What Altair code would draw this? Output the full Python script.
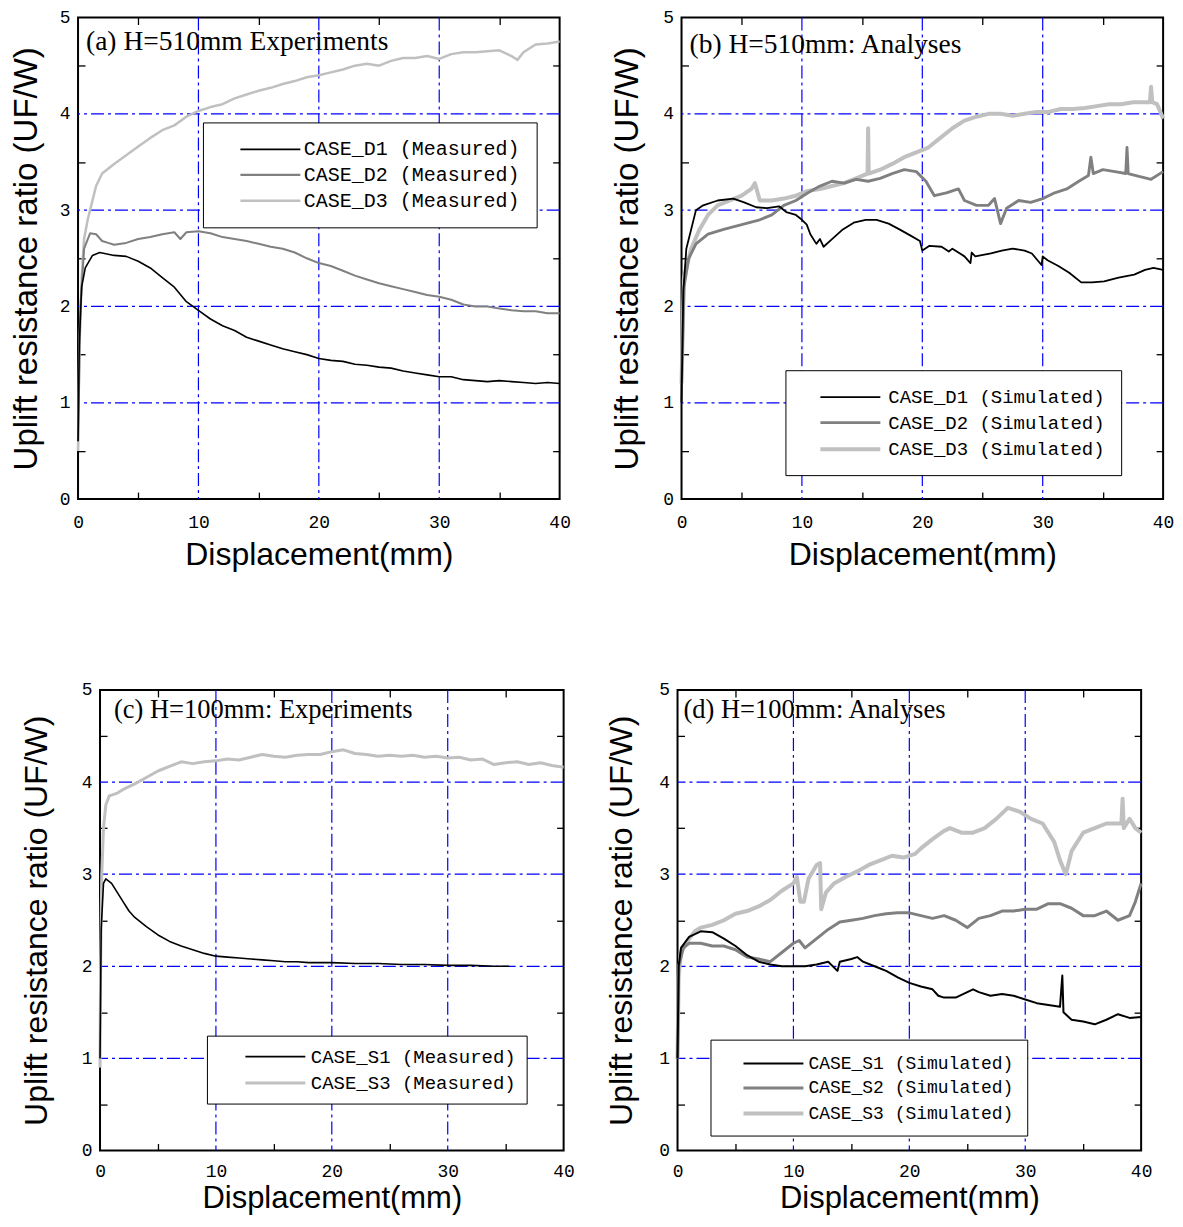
import altair as alt
import pandas as pd

# ---------------- data ----------------
# Panel (a) H=510mm experiments
A_D1_X = [0, 0.1, 0.3, 0.6, 1.2, 1.8, 3, 4, 5, 6, 7, 8, 9, 10, 11, 12, 13, 14, 15, 16, 17, 18, 19, 20,
          21, 22, 23, 24, 25, 26, 27, 28, 29, 30, 31, 32, 33, 34, 35, 36, 37, 38, 39, 40]
A_D1_Y = [0.6, 1.6, 2.2, 2.4, 2.53, 2.56, 2.53, 2.52, 2.47, 2.4, 2.3, 2.2, 2.05, 1.96, 1.87, 1.8, 1.75, 1.68, 1.64, 1.6, 1.56, 1.53, 1.5, 1.46,
          1.44, 1.43, 1.4, 1.39, 1.37, 1.36, 1.33, 1.31, 1.29, 1.27, 1.27, 1.24, 1.23, 1.22, 1.23, 1.22, 1.21, 1.2, 1.21, 1.2]
A_D2_X = [0, 0.2, 0.5, 1.0, 1.5, 2, 2.5, 3, 4, 5, 6, 7, 8, 8.5, 9, 10, 11, 12, 13, 14, 15, 16, 17, 18, 19, 20,
          21, 22, 23, 24, 25, 26, 27, 28, 29, 30, 31, 32, 33, 34, 35, 36, 37, 38, 39, 40]
A_D2_Y = [0.6, 2.0, 2.6, 2.76, 2.75, 2.68, 2.66, 2.64, 2.66, 2.7, 2.72, 2.75, 2.77, 2.7, 2.77, 2.78, 2.76, 2.72, 2.7, 2.68, 2.65, 2.62, 2.6, 2.56, 2.5, 2.45,
          2.42, 2.37, 2.32, 2.28, 2.24, 2.21, 2.18, 2.15, 2.12, 2.1, 2.07, 2.02, 2.0, 2.0, 1.98, 1.96, 1.95, 1.95, 1.93, 1.93]
A_D3_X = [0, 0.1, 0.3, 0.5, 0.8, 1.0, 1.5, 2, 2.5, 3, 4, 5, 6, 7, 8, 9, 10, 11, 12, 13, 14, 15, 16, 17, 18, 19, 20,
          21, 22, 23, 24, 25, 26, 27, 28, 29, 30, 31, 32, 33, 34, 35, 36, 36.5, 37, 38, 39, 40]
A_D3_Y = [0.5, 1.5, 2.3, 2.7, 2.9, 3.0, 3.25, 3.38, 3.43, 3.48, 3.57, 3.66, 3.75, 3.83, 3.88, 3.97, 4.03, 4.07, 4.1, 4.16, 4.2, 4.24, 4.27, 4.31, 4.34, 4.38, 4.4,
          4.43, 4.46, 4.5, 4.52, 4.5, 4.55, 4.58, 4.58, 4.6, 4.57, 4.62, 4.64, 4.64, 4.65, 4.66, 4.6, 4.56, 4.64, 4.72, 4.73, 4.75]

# Panel (b) H=510mm analyses
B_D1_X = [0, 0.15, 0.4, 1.2, 1.8, 3.0, 4.3, 5.2, 6.2, 7.1, 8.1, 8.7, 9.5, 10, 10.4, 10.7, 11.2, 11.5, 11.8, 12.5, 13.4, 14.3, 15.3,
          16.2, 17.2, 18.1, 19.1, 19.8, 20, 20.6, 21.6, 22.2, 22.5, 23.5, 24, 24.1, 24.4, 25.7, 26.6, 27.5, 28.5, 29.1, 29.9, 30.0, 30.4,
          31.3, 32.2, 33.2, 34.1, 35.1, 36.3, 37.6, 38.5, 39.2, 40]
B_D1_Y = [1.0, 2.16, 2.6, 3.0, 3.05, 3.1, 3.12, 3.08, 3.03, 3.02, 3.04, 2.98, 2.95, 2.9, 2.85, 2.75, 2.65, 2.7, 2.62, 2.7, 2.8, 2.87, 2.9,
          2.9, 2.86, 2.8, 2.73, 2.68, 2.58, 2.63, 2.62, 2.57, 2.6, 2.52, 2.45, 2.56, 2.52, 2.55, 2.58, 2.6, 2.58, 2.55, 2.43, 2.52, 2.48,
          2.42, 2.35, 2.25, 2.25, 2.26, 2.3, 2.33, 2.38, 2.4, 2.38]
B_D2_X = [0, 0.2, 0.6, 1.2, 2.2, 3.5, 5, 6.5, 7.5, 8.5, 9.5, 10.5, 11.5, 12.5, 13.5, 14.5, 15.5, 16.5, 17.5, 18.5, 19.5,
          20.3, 21, 22, 23, 23.5, 24.5, 25.5, 26, 26.5, 27, 28, 29, 30, 31, 32, 33, 33.8, 34, 34.2, 35, 36, 36.9, 37, 37.1, 38, 39, 40]
B_D2_Y = [1.2, 2.2, 2.5, 2.65, 2.75, 2.8, 2.85, 2.9, 2.95, 3.05, 3.1, 3.18, 3.25, 3.3, 3.28, 3.32, 3.3, 3.33, 3.38, 3.42, 3.4,
          3.3, 3.15, 3.18, 3.22, 3.1, 3.05, 3.05, 3.12, 2.86, 3.02, 3.1, 3.08, 3.12, 3.18, 3.22, 3.3, 3.36, 3.55, 3.38, 3.42, 3.4, 3.38, 3.65, 3.38, 3.35, 3.32, 3.4]
B_D3_X = [0, 0.2, 0.8, 1.5, 2.2, 3, 4, 5, 5.8, 6.1, 6.5, 7.5, 8.5, 9.5, 10.5, 11.5, 12.5, 13.5, 14.5, 15.45, 15.5, 15.55,
          16.5, 17.5, 18.5, 19.5, 20.5, 21.5, 22.5, 23.5, 24.5, 25.5, 26.5, 27.5, 28.5, 29.5, 30.5, 31.5, 32.5, 33.5, 34.5,
          35.5, 36.5, 37.5, 38.5, 38.9, 39, 39.1, 39.5, 40]
B_D3_Y = [1.2, 2.3, 2.6, 2.8, 2.95, 3.05, 3.1, 3.15, 3.22, 3.28, 3.1, 3.1, 3.12, 3.15, 3.2, 3.22, 3.25, 3.28, 3.33, 3.38, 3.85, 3.38,
          3.42, 3.48, 3.55, 3.6, 3.65, 3.75, 3.85, 3.93, 3.97, 4.0, 4.0, 3.98, 4.0, 4.02, 4.02, 4.05, 4.05, 4.06, 4.08,
          4.1, 4.1, 4.12, 4.12, 4.12, 4.28, 4.12, 4.1, 3.95]

# Panel (c) H=100mm experiments
C_S1_X = [0, 0.1, 0.3, 0.5, 1, 1.5, 2, 2.5, 3, 4, 5, 6, 7, 8, 9, 10, 11, 12, 13, 14, 15, 16, 17, 18, 19, 20,
          22, 24, 26, 28, 30, 32, 34, 35.3]
C_S1_Y = [1.0, 2.4, 2.9, 2.95, 2.9, 2.8, 2.7, 2.6, 2.53, 2.43, 2.34, 2.27, 2.22, 2.18, 2.14, 2.11, 2.1, 2.09, 2.08, 2.07, 2.06, 2.05, 2.05, 2.04, 2.04, 2.04,
          2.03, 2.03, 2.02, 2.02, 2.01, 2.01, 2.0, 2.0]
C_S3_X = [0, 0.05, 0.15, 0.3, 0.5, 0.8, 1.5, 2, 3, 4, 5, 6, 7, 8, 9, 10, 11, 12, 13, 14, 15, 16, 17, 18, 19, 20,
          21, 22, 23, 24, 25, 26, 27, 28, 29, 30, 31, 32, 33, 34, 35, 36, 37, 38, 39, 40]
C_S3_Y = [0.9, 2.0, 3.0, 3.5, 3.75, 3.85, 3.88, 3.92, 3.98, 4.05, 4.12, 4.17, 4.22, 4.2, 4.22, 4.23, 4.25, 4.24, 4.27, 4.3, 4.28, 4.27, 4.29, 4.3, 4.3, 4.33,
          4.35, 4.31, 4.3, 4.28, 4.29, 4.28, 4.29, 4.27, 4.28, 4.26, 4.27, 4.24, 4.25, 4.19, 4.21, 4.22, 4.19, 4.21, 4.18, 4.16]

# Panel (d) H=100mm analyses
D_S1_X = [0, 0.1, 0.3, 1, 2, 3, 4, 5, 6, 7, 8, 9, 10, 11, 12, 13, 13.8, 14, 15, 15.5, 16, 17, 18, 19, 20, 21, 22, 22.5,
          23, 24, 25, 25.5, 26, 27, 28, 29, 30, 31, 32, 33, 33.2, 33.3, 34, 35, 36, 37, 38, 39, 40]
D_S1_Y = [1.0, 2.0, 2.2, 2.32, 2.38, 2.37, 2.3, 2.22, 2.12, 2.05, 2.02, 2.0, 2.0, 2.0, 2.02, 2.05, 1.95, 2.05, 2.08, 2.1, 2.05, 2.0, 1.95, 1.88, 1.82, 1.78, 1.75, 1.68,
          1.66, 1.66, 1.72, 1.75, 1.72, 1.68, 1.7, 1.68, 1.64, 1.6, 1.58, 1.56, 1.9, 1.5, 1.42, 1.4, 1.37, 1.42, 1.48, 1.44, 1.45]
D_S2_X = [0, 0.1, 0.5, 1, 2, 3, 4, 5, 6, 7, 8, 9, 10, 10.5, 11, 12, 13, 14, 15, 16, 17, 18, 19, 20, 21, 22, 23, 24, 25,
          26, 27, 28, 29, 30, 31, 32, 33, 34, 35, 36, 37, 38, 39, 39.5, 40]
D_S2_Y = [1.0, 2.0, 2.2, 2.25, 2.25, 2.22, 2.22, 2.18, 2.1, 2.08, 2.05, 2.15, 2.25, 2.28, 2.2, 2.3, 2.4, 2.48, 2.5, 2.52, 2.55, 2.57, 2.58, 2.58, 2.55, 2.52, 2.55, 2.5, 2.42,
          2.52, 2.55, 2.6, 2.6, 2.62, 2.62, 2.68, 2.68, 2.63, 2.55, 2.55, 2.6, 2.5, 2.55, 2.7, 2.9]
D_S3_X = [0, 0.1, 0.3, 1, 1.5, 2, 3, 4, 5, 6, 7, 8, 9, 10, 10.3, 10.6, 10.9, 11.3, 12, 12.3, 12.4, 12.8, 13.5, 14.5, 15.5,
          16.5, 17.5, 18.5, 19.5, 20.5, 21, 22, 23, 23.5, 24.5, 25.5, 26.5, 27.5, 28.5, 29.5, 30.5, 31.5, 32.5, 33, 33.5,
          34, 35, 36, 37, 38, 38.3, 38.4, 38.5, 39, 39.5, 40]
D_S3_Y = [1.0, 1.9, 2.15, 2.3, 2.38, 2.42, 2.45, 2.5, 2.57, 2.6, 2.65, 2.72, 2.82, 2.9, 2.97, 2.7, 2.7, 2.95, 3.1, 3.12, 2.62, 2.8, 2.9, 2.97, 3.03,
          3.1, 3.15, 3.2, 3.18, 3.22, 3.28, 3.38, 3.47, 3.5, 3.45, 3.45, 3.5, 3.6, 3.72, 3.68, 3.6, 3.55, 3.35, 3.15, 3.0,
          3.25, 3.45, 3.5, 3.55, 3.55, 3.55, 3.82, 3.5, 3.6, 3.5, 3.45]

X_LABELS = [0, 10, 20, 30, 40]
Y_LABELS = [0, 1, 2, 3, 4, 5]
X_MINOR = [5, 15, 25, 35]
Y_MINOR = [0.5, 1.5, 2.5, 3.5, 4.5]
GRID_X = [10, 20, 30]
GRID_Y = [1, 2, 3, 4]

BLACK, GRAY, LIGHT = "#000000", "#808080", "#c0c0c0"


def panel(series, title, W, H, title_size, ytitle_pad, xlabel_pad, xtitle_pad,
          head_size, head_dx, head_dy, leg):
    rows = []
    # draw in reverse so that the first (black) series is on top
    for name, xs_, ys_, color, sw in reversed(series):
        for i, (xv, yv) in enumerate(zip(xs_, ys_)):
            rows.append({"series": name, "x": xv, "y": yv, "i": i})
    df = pd.DataFrame(rows)
    names = [s[0] for s in series]
    colors = [s[3] for s in series]
    widths = [s[4] for s in series]

    xsc = alt.Scale(domain=[0, 40], nice=False, zero=False)
    ysc = alt.Scale(domain=[0, 5], nice=False, zero=False)
    dash = [13, 4, 3, 4]
    gx = alt.Chart(pd.DataFrame({"g": GRID_X})).mark_rule(
        color="#0000ff", strokeDash=dash, strokeWidth=1.2).encode(
        x=alt.X("g:Q", scale=xsc, axis=None))
    gy = alt.Chart(pd.DataFrame({"g": GRID_Y})).mark_rule(
        color="#0000ff", strokeDash=dash, strokeWidth=1.2).encode(
        y=alt.Y("g:Q", scale=ysc, axis=None))

    lines = alt.Chart(df).mark_line(strokeJoin="round").encode(
        x=alt.X("x:Q", scale=xsc, axis=alt.Axis(
            values=X_LABELS, ticks=False, domain=False, grid=False, format="d",
            labelFont="Liberation Mono", labelFontSize=18, labelColor="black",
            labelPadding=xlabel_pad, labelFlush=False, labelOverlap=False,
            title="Displacement(mm)", titleFont="Liberation Sans",
            titleFontSize=title_size, titleFontWeight="normal", titleColor="black",
            titlePadding=xtitle_pad)),
        y=alt.Y("y:Q", scale=ysc, axis=alt.Axis(
            values=Y_LABELS, ticks=False, domain=False, grid=False, format="d",
            labelFont="Liberation Mono", labelFontSize=18, labelColor="black",
            labelPadding=8, labelFlush=False, labelOverlap=False,
            title="Uplift resistance ratio (UF/W)", titleFont="Liberation Sans",
            titleFontSize=title_size + 1, titleFontWeight="normal", titleColor="black",
            titlePadding=ytitle_pad)),
        color=alt.Color("series:N", scale=alt.Scale(domain=names, range=colors),
                        legend=alt.Legend(
                            orient="none", legendX=leg["x"], legendY=leg["y"], title=None,
                            strokeColor="black", fillColor="white", padding=leg["pad"],
                            symbolType="M-3,0H3", symbolSize=400, symbolStrokeWidth=2,
                            symbolOffset=leg["so"], labelOffset=leg["lo"],
                            labelFont="Liberation Mono", labelFontSize=leg["fs"], labelColor="black",
                            labelLimit=500, rowPadding=leg["rp"])),
        strokeWidth=alt.StrokeWidth("series:N", scale=alt.Scale(domain=names, range=widths), legend=None),
        detail="series:N",
        order=alt.Order("i:Q"),
    )

    heading = alt.Chart(pd.DataFrame({"t": [title]})).mark_text(
        align="left", baseline="alphabetic", font="Liberation Serif",
        fontSize=head_size, color="black").encode(
        text="t:N", x=alt.value(head_dx), y=alt.value(head_dy))

    tick = dict(labels=False, domain=False, grid=False, ticks=True, tickSize=7,
                tickColor="black", tickWidth=1.3, title=None)
    dummy = pd.DataFrame({"x": [0], "y": [0]})
    t1 = alt.Chart(dummy).mark_point(opacity=0).encode(
        x=alt.X("x:Q", scale=xsc, axis=alt.Axis(orient="top", offset=-H, values=X_MINOR, **tick)),
        y=alt.Y("y:Q", scale=ysc, axis=alt.Axis(orient="right", offset=-W, values=Y_MINOR, **tick)))
    t2 = alt.Chart(dummy).mark_point(opacity=0).encode(
        x=alt.X("x:Q", scale=xsc, axis=alt.Axis(orient="bottom", offset=-H, values=X_MINOR, **tick)),
        y=alt.Y("y:Q", scale=ysc, axis=alt.Axis(orient="left", offset=-W, values=Y_MINOR, **tick)))

    return alt.layer(gx, gy, lines, heading, t1, t2).resolve_axis(
        x="independent", y="independent").properties(width=W, height=H)


pa = panel([("CASE_D1 (Measured)", A_D1_X, A_D1_Y, BLACK, 1.6),
            ("CASE_D2 (Measured)", A_D2_X, A_D2_Y, GRAY, 2.5),
            ("CASE_D3 (Measured)", A_D3_X, A_D3_Y, LIGHT, 3.0)],
           "(a) H=510mm Experiments", 482, 482, 32, 16, 14, 8, 27.5, 8, 33,
           dict(x=125, y=105, pad=16, so=40, lo=22, fs=20, rp=4))
pb = panel([("CASE_D1 (Simulated)", B_D1_X, B_D1_Y, BLACK, 1.8),
            ("CASE_D2 (Simulated)", B_D2_X, B_D2_Y, GRAY, 4.0),
            ("CASE_D3 (Simulated)", B_D3_X, B_D3_Y, LIGHT, 6.0)],
           "(b) H=510mm: Analyses", 482, 482, 32, 18, 14, 8, 27.5, 8, 36,
           dict(x=104, y=353, pad=16, so=37, lo=26, fs=19, rp=4))
pc = panel([("CASE_S1 (Measured)", C_S1_X, C_S1_Y, BLACK, 1.6),
            ("CASE_S3 (Measured)", C_S3_X, C_S3_Y, LIGHT, 3.0)],
           "(c) H=100mm: Experiments", 464, 461, 31, 28, 12, 3, 26.5, 14, 28,
           dict(x=107, y=346, pad=10, so=47, lo=24, fs=19, rp=5))
pd_ = panel([("CASE_S1 (Simulated)", D_S1_X, D_S1_Y, BLACK, 2.0),
             ("CASE_S2 (Simulated)", D_S2_X, D_S2_Y, GRAY, 4.0),
             ("CASE_S3 (Simulated)", D_S3_X, D_S3_Y, LIGHT, 4.0)],
            "(d) H=100mm: Analyses", 464, 461, 31, 20, 12, 3, 26.5, 6, 28,
            dict(x=33, y=350, pad=13, so=38, lo=23, fs=18, rp=4))

top = alt.hconcat(pa, pb, spacing=39).resolve_scale(color="independent", strokeWidth="independent")
bottom = alt.hconcat(pc, pd_, spacing=29).resolve_scale(color="independent", strokeWidth="independent")
chart = alt.vconcat(top, bottom, spacing=109, center=True).resolve_scale(
    color="independent", strokeWidth="independent").configure_view(
    stroke="black", strokeWidth=2).properties(
    padding={"left": 1, "top": -1, "right": 0, "bottom": 0}, background="white")

chart.save("out.html", embed_options={"renderer": "svg", "actions": False})
